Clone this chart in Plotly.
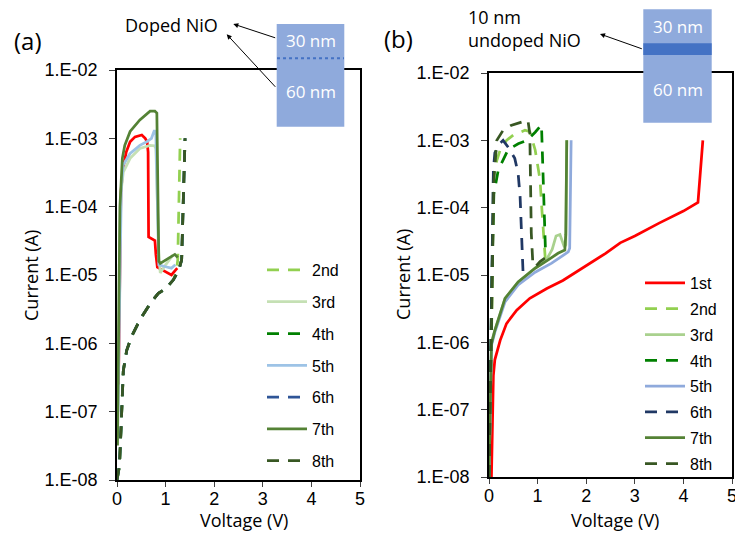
import plotly.graph_objects as go

# ---------------- data: panel (a) doped NiO ----------------
va_1st = [0.03, 0.05, 0.08, 0.12, 0.19, 0.27, 0.37, 0.51, 0.58, 0.62, 0.64, 0.65, 0.78, 0.80, 0.83, 0.92, 1.05, 1.12, 1.20, 1.24]
ia_1st = [2.5e-7, 1.0e-5, 1.6e-4, 3.5e-4, 6.3e-4, 8.9e-4, 1.05e-3, 1.12e-3, 1.0e-3, 8.9e-4, 6.3e-4, 3.6e-5, 3.2e-5, 2.0e-5, 1.3e-5, 1.2e-5, 1.07e-5, 1.0e-5, 1.17e-5, 1.26e-5]

va_2nd = [0.0, 0.05, 0.08, 0.10, 0.13, 0.20, 0.30, 0.47, 0.68, 0.85, 1.00, 1.16, 1.22, 1.25, 1.30]
ia_2nd = [1.0e-8, 1.6e-8, 5.0e-8, 1.5e-7, 4.0e-7, 7.9e-7, 1.26e-6, 2.2e-6, 3.8e-6, 5.4e-6, 6.3e-6, 8.5e-6, 1.12e-5, 1.66e-5, 1.0e-3]

va_3rd = [0.03, 0.05, 0.08, 0.13, 0.27, 0.47, 0.68, 0.77, 0.80, 0.86, 0.89, 1.00, 1.15]
ia_3rd = [5.0e-7, 3.2e-5, 1.6e-4, 3.2e-4, 5.1e-4, 7.1e-4, 7.9e-4, 7.8e-4, 7.1e-4, 2.0e-5, 1.07e-5, 1.41e-5, 1.95e-5]

va_4th = [0.0, 0.05, 0.08, 0.10, 0.13, 0.20, 0.30, 0.47, 0.68, 0.85, 1.00, 1.16, 1.27, 1.33, 1.40]
ia_4th = [1.0e-8, 1.6e-8, 5.0e-8, 1.5e-7, 4.0e-7, 7.9e-7, 1.26e-6, 2.2e-6, 3.8e-6, 5.4e-6, 6.3e-6, 8.5e-6, 1.17e-5, 1.66e-5, 1.0e-3]

va_5th = [0.02, 0.03, 0.06, 0.09, 0.13, 0.27, 0.47, 0.61, 0.71, 0.77, 0.80, 0.86, 1.00, 1.12, 1.20]
ia_5th = [1.0e-7, 3.2e-7, 3.2e-5, 2.0e-4, 4.1e-4, 6.0e-4, 7.9e-4, 8.9e-4, 1.0e-3, 1.32e-3, 1.12e-3, 1.41e-5, 1.32e-5, 1.26e-5, 1.41e-5]

va_6th = [0.0, 0.05, 0.08, 0.10, 0.13, 0.20, 0.30, 0.47, 0.68, 0.85, 1.00, 1.16, 1.27, 1.33, 1.40]
ia_6th = [1.0e-8, 1.6e-8, 5.0e-8, 1.5e-7, 4.0e-7, 7.9e-7, 1.26e-6, 2.2e-6, 3.8e-6, 5.4e-6, 6.3e-6, 8.5e-6, 1.17e-5, 1.66e-5, 1.0e-3]

va_7th = [0.01, 0.03, 0.06, 0.11, 0.16, 0.27, 0.47, 0.68, 0.78, 0.82, 0.86, 0.89, 1.19, 1.25]
ia_7th = [3.2e-8, 3.2e-6, 1.0e-4, 5.1e-4, 7.9e-4, 1.26e-3, 1.86e-3, 2.5e-3, 2.5e-3, 2.35e-3, 1.6e-5, 1.48e-5, 2.0e-5, 1.8e-5]

va_8th = [0.0, 0.05, 0.08, 0.10, 0.13, 0.20, 0.30, 0.47, 0.68, 0.85, 1.00, 1.16, 1.27, 1.33, 1.40]
ia_8th = [1.0e-8, 1.6e-8, 5.0e-8, 1.5e-7, 4.0e-7, 7.9e-7, 1.26e-6, 2.2e-6, 3.8e-6, 5.4e-6, 6.3e-6, 8.5e-6, 1.17e-5, 1.66e-5, 1.0e-3]

# ---------------- data: panel (b) with 10 nm undoped NiO ----------------
vb_1st = [0.05, 0.07, 0.09, 0.12, 0.23, 0.36, 0.57, 0.84, 1.19, 1.52, 1.80, 2.08, 2.40, 2.70, 3.00, 3.50, 4.00, 4.30, 4.40]
ib_1st = [1.0e-8, 1.0e-7, 3.2e-7, 5.5e-7, 1.07e-6, 1.9e-6, 3.0e-6, 4.5e-6, 6.3e-6, 8.3e-6, 1.12e-5, 1.48e-5, 2.1e-5, 3.0e-5, 3.8e-5, 5.9e-5, 8.9e-5, 1.2e-4, 1.0e-3]

vb_2nd = [0.0, 0.03, 0.05, 0.07, 0.09, 0.16, 0.23, 0.36, 0.50, 0.74, 0.84, 0.95, 1.00, 1.05, 1.08, 1.11, 1.15, 1.16]
ib_2nd = [1.0e-8, 1.0e-7, 1.0e-6, 1.0e-5, 2.9e-4, 5.0e-4, 7.2e-4, 1.0e-3, 1.2e-3, 1.41e-3, 1.35e-3, 7.2e-4, 4.1e-4, 2.6e-4, 1.15e-4, 4.7e-5, 1.86e-5, 1.66e-5]

vb_3rd = [0.0, 0.02, 0.05, 0.12, 0.23, 0.33, 0.60, 0.95, 1.20, 1.30, 1.38, 1.46, 1.55, 1.58, 1.60]
ib_3rd = [1.0e-8, 1.0e-7, 1.0e-6, 1.5e-6, 2.7e-6, 4.5e-6, 7.9e-6, 1.26e-5, 1.78e-5, 2.4e-5, 3.8e-5, 4.0e-5, 2.6e-5, 2.8e-5, 1.0e-3]

vb_4th = [0.0, 0.02, 0.04, 0.06, 0.10, 0.19, 0.39, 0.60, 0.78, 0.95, 1.08, 1.10, 1.12, 1.14, 1.16, 1.18]
ib_4th = [1.0e-8, 1.0e-7, 1.0e-6, 1.0e-5, 1.6e-4, 3.6e-4, 7.2e-4, 8.9e-4, 1.0e-3, 1.32e-3, 1.7e-3, 5.0e-4, 1.26e-4, 5.0e-5, 2.5e-5, 2.1e-5]

vb_5th = [0.0, 0.02, 0.05, 0.12, 0.23, 0.33, 0.60, 0.95, 1.29, 1.50, 1.63, 1.66, 1.69]
ib_5th = [1.0e-8, 1.0e-7, 8.9e-7, 1.41e-6, 2.5e-6, 4.0e-6, 7.1e-6, 1.1e-5, 1.5e-5, 1.9e-5, 2.2e-5, 2.5e-5, 1.0e-3]

vb_6th = [0.0, 0.02, 0.03, 0.05, 0.09, 0.12, 0.23, 0.29, 0.40, 0.53, 0.60, 0.64, 0.66, 0.68, 0.70]
ib_6th = [1.0e-8, 1.0e-7, 1.0e-6, 1.0e-5, 3.6e-4, 6.5e-4, 9.1e-4, 1.0e-3, 7.8e-4, 5.4e-4, 3.2e-4, 1.45e-4, 6.3e-5, 3.2e-5, 1.12e-5]

vb_7th = [0.0, 0.02, 0.05, 0.12, 0.23, 0.33, 0.60, 0.95, 1.21, 1.42, 1.56, 1.58, 1.60]
ib_7th = [1.0e-8, 1.0e-7, 9.5e-7, 1.5e-6, 2.7e-6, 4.5e-6, 7.9e-6, 1.26e-5, 1.66e-5, 2.1e-5, 2.35e-5, 4.0e-5, 1.0e-3]

vb_8th = [0.0, 0.02, 0.04, 0.06, 0.10, 0.16, 0.29, 0.45, 0.64, 0.80, 0.84, 0.85, 0.87, 0.90, 0.95, 1.05, 1.15]
ib_8th = [1.0e-8, 1.0e-7, 1.0e-6, 1.0e-5, 2.5e-4, 1.0e-3, 1.41e-3, 1.66e-3, 1.82e-3, 2.0e-3, 1.26e-3, 3.6e-4, 4.2e-5, 1.58e-5, 1.32e-5, 1.58e-5, 1.78e-5]

labels = ["1st", "2nd", "3rd", "4th", "5th", "6th", "7th", "8th"]
y_tickvals = [1e-8, 1e-7, 1e-6, 1e-5, 1e-4, 1e-3, 1e-2]
y_ticktext = ["1.E-08", "1.E-07", "1.E-06", "1.E-05", "1.E-04", "1.E-03", "1.E-02"]
x_tickvals = [0, 1, 2, 3, 4, 5]

colors_a = ["#FF0000", "#92D050", "#C5E0B4", "#008000", "#9DC3E6", "#2F5597", "#548235", "#385723"]
colors_b = ["#FF0000", "#92D050", "#A9D18E", "#008000", "#8FAADC", "#203864", "#548235", "#385723"]
dashes = ["solid", "12px,9px", "solid", "12px,9px", "solid", "12px,9px", "solid", "12px,9px"]

series_a = [(va_1st, ia_1st), (va_2nd, ia_2nd), (va_3rd, ia_3rd), (va_4th, ia_4th),
            (va_5th, ia_5th), (va_6th, ia_6th), (va_7th, ia_7th), (va_8th, ia_8th)]
series_b = [(vb_1st, ib_1st), (vb_2nd, ib_2nd), (vb_3rd, ib_3rd), (vb_4th, ib_4th),
            (vb_5th, ib_5th), (vb_6th, ib_6th), (vb_7th, ib_7th), (vb_8th, ib_8th)]

W, H = 735, 540
def px(x):
    return x / W
def py(y):
    return 1 - y / H

fig = go.Figure()
LW = 2.75
for i, (v, c) in enumerate(series_a):
    fig.add_trace(go.Scatter(
        x=v, y=c, mode="lines", name=labels[i],
        line=dict(color=colors_a[i], width=LW, dash=dashes[i]),
        xaxis="x", yaxis="y", showlegend=(i > 0), legend="legend",
        legendgroup="a" + labels[i]))
for i, (v, c) in enumerate(series_b):
    fig.add_trace(go.Scatter(
        x=v, y=c, mode="lines", name=labels[i],
        line=dict(color=colors_b[i], width=LW, dash=dashes[i]),
        xaxis="x2", yaxis="y2", showlegend=True, legend="legend2",
        legendgroup="b" + labels[i]))

tickfont = dict(family="Liberation Sans, Arial", size=18, color="#000000")
xa = dict(range=[0, 5], tickvals=x_tickvals, ticks="outside", ticklen=5, tickcolor="#404040",
          showline=True, linecolor="#000000", linewidth=1.5, mirror=True, showgrid=False,
          zeroline=False, tickfont=tickfont, ticklabelstandoff=-3, automargin=False,
          ticklabeloverflow="allow")
ya = dict(type="log", range=[-8, -2], tickvals=y_tickvals, ticktext=y_ticktext, ticks="outside",
          ticklen=6, tickcolor="#404040", showline=True, linecolor="#000000", linewidth=1.5,
          mirror=True, showgrid=False, zeroline=False, tickfont=tickfont, ticklabelstandoff=8,
          automargin=False, ticklabeloverflow="allow")

fig.update_layout(
    template="none",
    width=W, height=H, margin=dict(l=0, r=0, t=0, b=0, pad=0, autoexpand=False),
    paper_bgcolor="white", plot_bgcolor="white",
    xaxis=dict(domain=[px(117), px(360)], anchor="y", **xa),
    yaxis=dict(domain=[py(480), py(70)], anchor="x", **ya),
    xaxis2=dict(domain=[px(489), px(732)], anchor="y2", **xa),
    yaxis2=dict(domain=[py(477), py(73)], anchor="x2", **ya),
    legend=dict(x=px(262), y=py(253), xanchor="left", yanchor="top", bgcolor="rgba(0,0,0,0)",
                font=dict(family="Liberation Sans, Arial", size=16, color="#000000"),
                tracegroupgap=8, traceorder="grouped", itemwidth=40),
    legend2=dict(x=px(640), y=py(266), xanchor="left", yanchor="top", bgcolor="rgba(0,0,0,0)",
                 font=dict(family="Liberation Sans, Arial", size=16, color="#000000"),
                 tracegroupgap=2, traceorder="grouped", itemwidth=40),
    showlegend=True,
)

txtfont = dict(family="Open Sans", size=18, color="#000000")
wfont = dict(family="Open Sans", size=17, color="#FFFFFF")
ann = []
def add_text(x, y, t, font, xanchor="center", angle=0, align="center"):
    ann.append(dict(x=px(x), y=py(y), xref="paper", yref="paper", text=t, showarrow=False,
                    font=font, xanchor=xanchor, yanchor="middle", textangle=angle, align=align))

add_text(31, 275, "Current (A)", txtfont, angle=-90)
add_text(403, 275, "Current (A)", txtfont, angle=-90)
add_text(244, 520, "Voltage (V)", txtfont)
add_text(615, 520, "Voltage (V)", txtfont)
add_text(28, 40, "(a)", dict(family="Open Sans", size=24, color="#000000"))
add_text(399, 38, "(b)", dict(family="Open Sans", size=24, color="#000000"))
add_text(171, 25, "Doped NiO", txtfont)
add_text(466, 28.5, "10 nm<br>undoped NiO", txtfont, xanchor="left", align="left")
add_text(310.5, 40.5, "30 nm", wfont)
add_text(310.5, 91.5, "60 nm", wfont)
add_text(677.5, 26.5, "30 nm", wfont)
add_text(677.5, 90, "60 nm", wfont)

def add_arrow(hx, hy, tx, ty):
    ann.append(dict(x=px(hx), y=py(hy), xref="paper", yref="paper", text="", showarrow=True,
                    ax=tx - hx, ay=ty - hy, arrowhead=2, arrowsize=1, arrowwidth=1,
                    arrowcolor="#000000", standoff=0, startstandoff=0))
add_arrow(233.3, 24, 276.7, 38.3)
add_arrow(226.7, 34.3, 276.7, 88.3)
add_arrow(600, 34, 643.3, 49.3)

shapes = [
    dict(type="rect", xref="paper", yref="paper", x0=px(276.7), x1=px(344.3), y0=py(126.7), y1=py(24),
         fillcolor="#8FAADC", line=dict(width=0), layer="above"),
    dict(type="line", xref="paper", yref="paper", x0=px(277), x1=px(344), y0=py(58.3), y1=py(58.3),
         line=dict(color="#4472C4", width=2, dash="dot"), layer="above"),
    dict(type="rect", xref="paper", yref="paper", x0=px(643.3), x1=px(711.7), y0=py(122.7), y1=py(9.3),
         fillcolor="#8FAADC", line=dict(width=0), layer="above"),
    dict(type="rect", xref="paper", yref="paper", x0=px(643.3), x1=px(711.7), y0=py(55), y1=py(43.3),
         fillcolor="#4472C4", line=dict(width=0), layer="above"),
]
fig.update_layout(annotations=ann, shapes=shapes)

fig.write_html("out.html", config={"displayModeBar": False},
               post_script="document.body.style.margin='0';document.body.style.overflow='hidden';")
